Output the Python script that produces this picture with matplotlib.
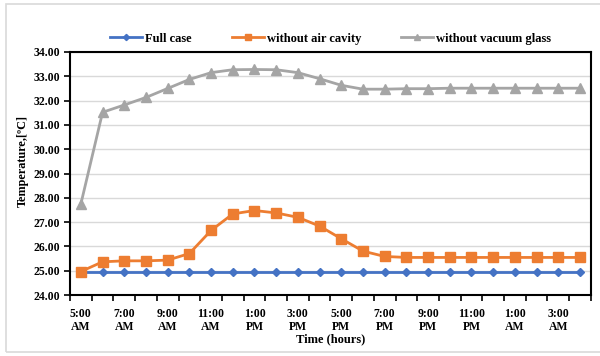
import matplotlib.pyplot as plt
from matplotlib.patches import Rectangle

hours = ["5:00\nAM", "6:00\nAM", "7:00\nAM", "8:00\nAM", "9:00\nAM", "10:00\nAM",
         "11:00\nAM", "12:00\nPM", "1:00\nPM", "2:00\nPM", "3:00\nPM", "4:00\nPM",
         "5:00\nPM", "6:00\nPM", "7:00\nPM", "8:00\nPM", "9:00\nPM", "10:00\nPM",
         "11:00\nPM", "12:00\nAM", "1:00\nAM", "2:00\nAM", "3:00\nAM", "4:00\nAM"]

full_case = [24.95] * 24
no_air_cavity = [24.97, 25.37, 25.41, 25.41, 25.44, 25.71, 26.66, 27.34, 27.48, 27.38,
                 27.20, 26.84, 26.32, 25.81, 25.59, 25.55, 25.55, 25.55, 25.55, 25.55,
                 25.55, 25.55, 25.55, 25.55]
no_vacuum_glass = [27.75, 31.52, 31.82, 32.13, 32.50, 32.87, 33.15, 33.27, 33.28, 33.27,
                   33.15, 32.90, 32.63, 32.47, 32.47, 32.49, 32.49, 32.51, 32.51, 32.51,
                   32.51, 32.51, 32.51, 32.51]

plt.rcParams["font.family"] = ["Liberation Serif", "DejaVu Serif"]
plt.rcParams["font.weight"] = "bold"

fig = plt.figure(figsize=(6.0, 3.56), dpi=100)
fig.patches.append(Rectangle((6 / 600, 4 / 356), 1.0, 348 / 356, transform=fig.transFigure,
                             fill=False, edgecolor="#d9d9d9", linewidth=1.2))
ax = fig.add_axes([0.1167, 0.171, 0.868, 0.683])

x = list(range(len(hours)))
ax.plot(x, full_case, color="#4472C4", lw=2, marker="D", ms=4.5, label="Full case")
ax.plot(x, no_air_cavity, color="#ED7D31", lw=2, marker="s", ms=7, label="without air cavity")
ax.plot(x, no_vacuum_glass, color="#A5A5A5", lw=2, marker="^", ms=7, label="without vacuum glass")

ax.set_xlim(-0.5, len(hours) - 0.5)
ax.set_ylim(24, 34)
ax.set_yticks([24 + i for i in range(11)])
ax.set_yticklabels([f"{24 + i:.2f}" for i in range(11)], fontsize=8.5, fontweight="bold")
ax.set_xticks(x[::2])
ax.set_xticklabels(hours[::2], fontsize=8.5, fontweight="bold", linespacing=1.2)
ax.set_xticks([i - 0.5 for i in range(len(hours) + 1)], minor=True)
ax.tick_params(axis="x", which="major", length=0, pad=9)
ax.tick_params(axis="x", which="minor", length=4, width=1.2, direction="out")
ax.tick_params(axis="y", length=4, width=1.2, direction="out", pad=3)

ax.grid(axis="y", color="#d9d9d9", lw=1)
ax.set_axisbelow(True)
for s in ax.spines.values():
    s.set_linewidth(1.5)
    s.set_color("black")

ax.set_xlabel("Time (hours)", fontsize=9, fontweight="bold", labelpad=0)
ax.set_ylabel("Temperature,[ºC]", fontsize=8.8, fontweight="bold")
ax.yaxis.set_label_coords(-0.08, 0.55)

ax.legend(loc="center", bbox_to_anchor=(0.5, 1.055), ncol=3, frameon=False,
          handlelength=2.6, columnspacing=3.2, handletextpad=0.2, markerscale=0.7,
          prop={"weight": "bold", "size": 9})

fig.savefig("out.png", dpi=100)
